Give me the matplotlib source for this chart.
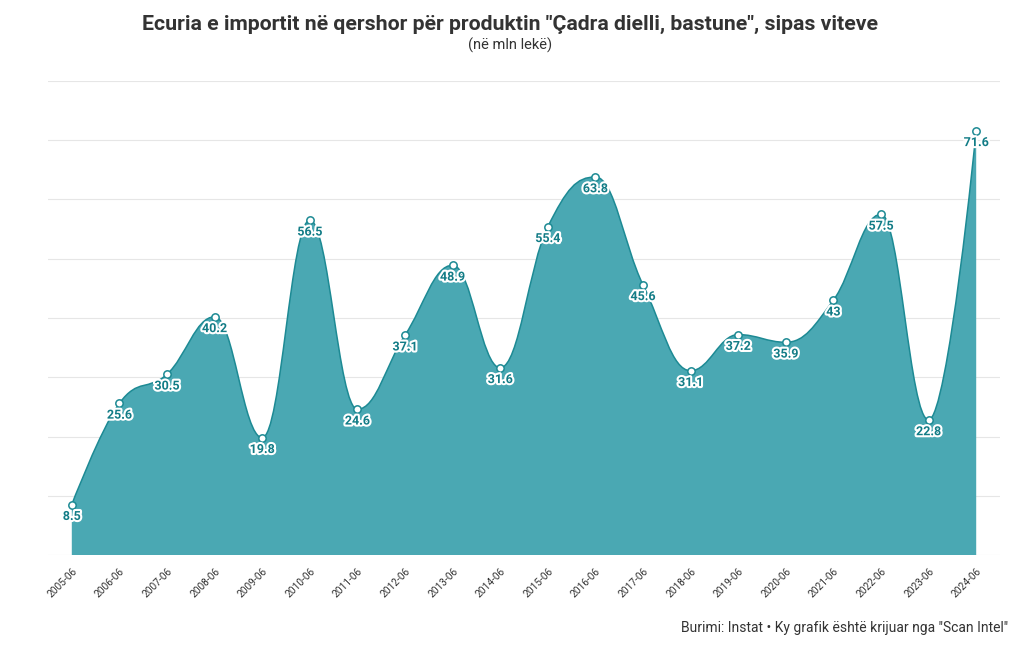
import matplotlib
matplotlib.use("Agg")
from matplotlib import pyplot as plt
from matplotlib.path import Path
from matplotlib.patches import PathPatch
import matplotlib.patheffects as pe
import numpy as np

# data (mln lekë)
periods = ["2005-06", "2006-06", "2007-06", "2008-06", "2009-06", "2010-06",
           "2011-06", "2012-06", "2013-06", "2014-06", "2015-06", "2016-06",
           "2017-06", "2018-06", "2019-06", "2020-06", "2021-06", "2022-06",
           "2023-06", "2024-06"]
values = [8.5, 25.6, 30.5, 40.2, 19.8, 56.5, 24.6, 37.1, 48.9, 31.6, 55.4, 63.8,
          45.6, 31.1, 37.2, 35.9, 43, 57.5, 22.8, 71.6]
value_labels = ["8.5", "25.6", "30.5", "40.2", "19.8", "56.5", "24.6", "37.1", "48.9",
                "31.6", "55.4", "63.8", "45.6", "31.1", "37.2", "35.9", "43", "57.5",
                "22.8", "71.6"]

title = 'Ecuria e importit në qershor për produktin "Çadra dielli, bastune", sipas viteve'
subtitle = "(në mln lekë)"
source = 'Burimi: Instat • Ky grafik është krijuar nga "Scan Intel"'

LINE = "#1d8a94"
FILL = "#4aa8b3"
TEXT = "#333333"
cond = ["Roboto", "DejaVu Sans"]


def spline_controls(xs, ys, smoothing=1.5):
    # control points the way a smoothed "spline" series builds them
    n = len(xs)
    left, right = [None] * n, [None] * n
    d = smoothing + 1
    for i in range(n):
        x, y = xs[i], ys[i]
        if 0 < i < n - 1:
            lx, ly = xs[i - 1], ys[i - 1]
            nx, ny = xs[i + 1], ys[i + 1]
            lcx = (smoothing * x + lx) / d
            lcy = (smoothing * y + ly) / d
            rcx = (smoothing * x + nx) / d
            rcy = (smoothing * y + ny) / d
            if rcx != lcx:
                corr = (rcy - lcy) * (rcx - x) / (rcx - lcx) + y - rcy
                lcy += corr
                rcy += corr
            if lcy > max(ly, y):
                lcy = max(ly, y); rcy = 2 * y - lcy
            elif lcy < min(ly, y):
                lcy = min(ly, y); rcy = 2 * y - lcy
            if rcy > max(ny, y):
                rcy = max(ny, y); lcy = 2 * y - rcy
            elif rcy < min(ny, y):
                rcy = min(ny, y); lcy = 2 * y - rcy
            left[i], right[i] = (lcx, lcy), (rcx, rcy)
        else:
            left[i], right[i] = (x, y), (x, y)
    verts, codes = [(xs[0], ys[0])], [Path.MOVETO]
    for i in range(1, n):
        verts += [right[i - 1], left[i], (xs[i], ys[i])]
        codes += [Path.CURVE4] * 3
    return verts, codes


fig = plt.figure(figsize=(10.2, 6.5), dpi=100)
ax = fig.add_axes([48 / 1020, 95 / 650, 952 / 1020, 474 / 650])

x = np.arange(len(values))
verts, codes = spline_controls(list(x), values)

area_verts = verts + [(x[-1], 0), (x[0], 0), (x[0], values[0])]
area_codes = codes + [Path.LINETO, Path.LINETO, Path.CLOSEPOLY]
ax.add_patch(PathPatch(Path(area_verts, area_codes), facecolor=FILL, edgecolor="none", zorder=2))
ax.add_patch(PathPatch(Path(verts, codes), facecolor="none", edgecolor=LINE, lw=1.1, zorder=3))

ax.scatter(x, values, s=28, facecolor="white", edgecolor=LINE, linewidth=1.1, zorder=4)

for xi, v, lab in zip(x, values, value_labels):
    ax.annotate(lab, (xi, v), xytext=(0, -8.5), textcoords="offset points",
                ha="center", va="center", fontsize=9, fontweight="bold",
                family=cond, color="#127c86", zorder=5,
                path_effects=[pe.withStroke(linewidth=3, foreground="white")])

ax.set_xlim(-0.5, len(values) - 0.5)
ax.set_ylim(0, 80)
ax.set_yticks(np.arange(0, 81, 10))
ax.set_yticklabels([])
ax.tick_params(axis="y", length=0)
ax.grid(axis="y", color="#e6e6e6", lw=0.8, zorder=0)
ax.set_axisbelow(True)
for s in ax.spines.values():
    s.set_visible(False)

ax.set_xticks(x)
ax.set_xticklabels(periods, rotation=45, ha="right", rotation_mode="anchor",
                   fontsize=7.3, family=cond, color=TEXT)
ax.tick_params(axis="x", length=0, pad=8)

fig.text(0.5, 1 - 24 / 650, title, ha="center", va="center", fontsize=15.3,
         fontweight="bold", family=cond, color=TEXT)
fig.text(0.5, 1 - 45 / 650, subtitle, ha="center", va="center", fontsize=10.5,
         family=cond, color=TEXT)
fig.text(1008 / 1020, 1 - 628 / 650, source, ha="right", va="center", fontsize=10,
         family=cond, color=TEXT)

fig.savefig("out.png", dpi=100)
